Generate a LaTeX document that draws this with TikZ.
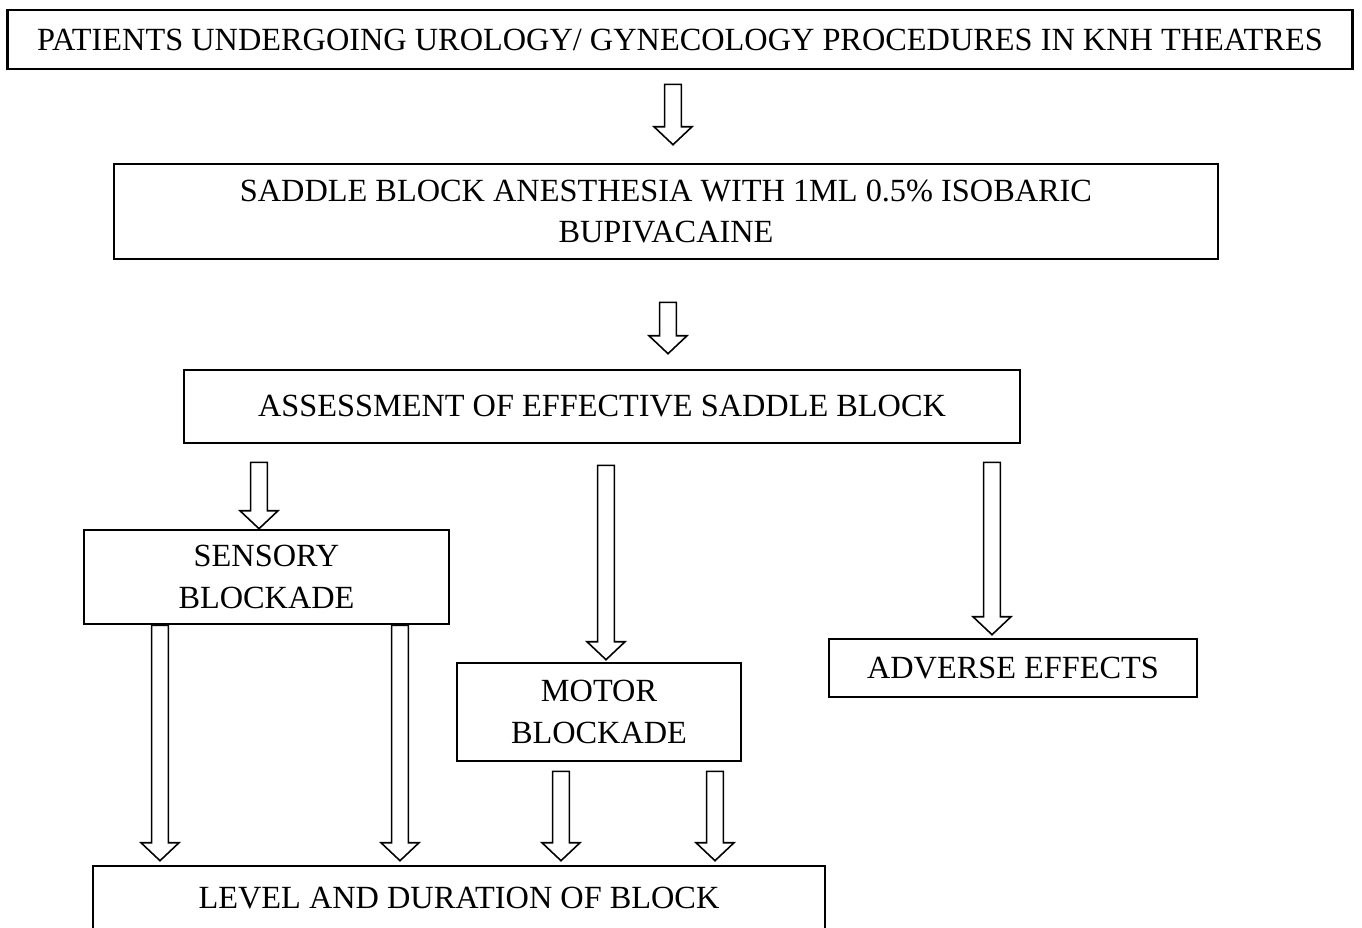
\documentclass[tikz,border=0pt]{standalone}
\usepackage{fontspec}
\setmainfont{Liberation Serif}
\usetikzlibrary{calc}

\def\sw{4.8pt}
\def\hw{10.8pt}
\def\hl{10.2pt}

\tikzset{
  box/.style={draw, line width=1.5pt, inner sep=0pt, align=center,
    font=\fontsize{18.4}{23.5}\selectfont},
  hollow/.style={line width=0.9pt, to path={let \p1=(\tikztostart), \p2=(\tikztotarget) in
    ({\x2-\sw},\y1) -- ({\x2-\sw},{\y2+\hl}) -- ({\x2-\hw},{\y2+\hl}) -- (\x2,\y2)
    -- ({\x2+\hw},{\y2+\hl}) -- ({\x2+\sw},{\y2+\hl}) -- ({\x2+\sw},\y1) -- cycle}}
}

\begin{document}
\begin{tikzpicture}[x=0.02cm, y=-0.02cm]
  \useasboundingbox (0,0) rectangle (1362,927);
  \clip (0,0) rectangle (1362,927);

  % boxes
  \node[box, minimum width=26.9cm, minimum height=1.18cm] (patients) at (680,39.5)
    {PATIENTS UNDERGOING UROLOGY/ GYNECOLOGY PROCEDURES IN KNH THEATRES};
  \node[box, minimum width=22.08cm, minimum height=1.9cm] (saddle) at (666,211.5)
    {SADDLE BLOCK ANESTHESIA WITH 1ML 0.5\% ISOBARIC\\BUPIVACAINE};
  \node[box, minimum width=16.72cm, minimum height=1.46cm] (assess) at (602,406.5)
    {ASSESSMENT OF EFFECTIVE SADDLE BLOCK};
  \node[box, minimum width=7.3cm, minimum height=1.88cm] (sensory) at (266.5,577)
    {SENSORY\\BLOCKADE};
  \node[box, minimum width=5.68cm, minimum height=1.96cm] (motor) at (599,712)
    {MOTOR\\BLOCKADE};
  \node[box, minimum width=7.36cm, minimum height=1.16cm] (adverse) at (1013,668)
    {ADVERSE EFFECTS};
  \node[box, minimum width=14.64cm, minimum height=1.28cm] (level) at (459,898)
    {LEVEL AND DURATION OF BLOCK};

  % arrows
  \draw[hollow] ($(patients.south)+(-7,14)$) to ($(saddle.north)+(7,-18)$);
  \draw[hollow] ($(saddle.south)+(2,42)$) to ($(assess.north)+(66,-15)$);
  \draw[hollow] ($(assess.south)+(-343,18)$) to ($(sensory.north)+(-7.5,0)$);
  \draw[hollow] ($(assess.south)+(4,21)$) to ($(motor.north)+(7,-2)$);
  \draw[hollow] ($(assess.south)+(390,18)$) to ($(adverse.north)+(-21,-3)$);
  \draw[hollow] ($(sensory.south)+(-106.5,0)$) to ($(level.north)+(-299,-4)$);
  \draw[hollow] ($(sensory.south)+(133.5,0)$) to ($(level.north)+(-59,-4)$);
  \draw[hollow] ($(motor.south)+(-38,9)$) to ($(level.north)+(102,-4)$);
  \draw[hollow] ($(motor.south)+(116,9)$) to ($(level.north)+(256,-4)$);
\end{tikzpicture}
\end{document}
